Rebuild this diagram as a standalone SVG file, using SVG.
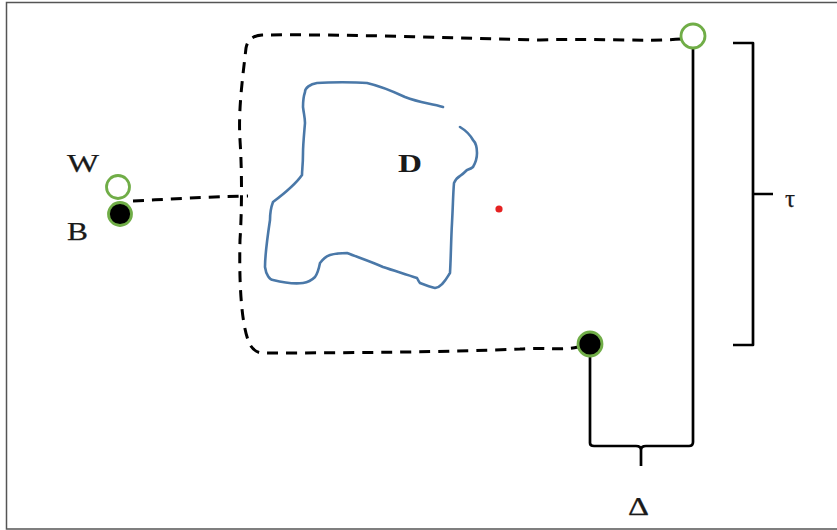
<svg xmlns="http://www.w3.org/2000/svg" width="837" height="530" viewBox="0 0 837 530">
<style>
.dash{fill:none;stroke:#000;stroke-width:3;stroke-dasharray:11 8;stroke-linecap:butt}
.solid{fill:none;stroke:#000;stroke-width:2.7;stroke-linejoin:round}
.lbl{font-family:"Liberation Serif",serif;fill:#1a1a1a;font-size:25px;stroke:#1a1a1a;stroke-width:0.25}
.ring{stroke:#70ad47;stroke-width:2.8}
</style>
<rect x="0" y="0" width="837" height="530" fill="#fff"/>
<rect x="6.5" y="2.5" width="840" height="526.5" fill="none" stroke="#555" stroke-width="1.5"/>
<g id="connectors">
<path class="dash" d="M681,39 C640,42 600,38 540,40 C450,38 350,34 262,35 Q248,36 246,48 C243,75 238,110 240,140 C242,170 242,210 240,240 C239,280 241,320 248,340 Q252,352 262,353 C350,353 450,352 520,349 C545,347 560,351 578,347"/>
<path class="dash" d="M133,201 C170,199 205,197 248,196"/>
<path class="solid" d="M590,357 L590,443 Q590,446 594,446 L636,446 Q641,446 641,450 L641,466 M641,450 Q641,446 646,446 L689,446 Q693,446 693,442 L693,49"/>
<path class="solid" d="M733,43 L753,43 L753,345 L733,345 M753,194 L773,194"/>
</g>
<g id="W">
<circle cx="118" cy="187" r="11.5" fill="#fff" class="ring"/>
<text class="lbl" x="67" y="172" textLength="32" lengthAdjust="spacingAndGlyphs">W</text>
</g>
<g id="B">
<circle cx="120" cy="214" r="11.5" fill="#000" class="ring"/>
<text class="lbl" x="67" y="240" textLength="21" lengthAdjust="spacingAndGlyphs">B</text>
</g>
<g id="topnode">
<circle cx="693" cy="36" r="12" fill="#fff" class="ring"/>
</g>
<g id="bottomnode">
<circle cx="590" cy="344" r="12" fill="#000" class="ring"/>
</g>
<g id="D">
<path d="M443,107 C430,103 420,103 405,97 C390,90 380,86 367,83 C355,82 330,82 317,83 C310,84 305,88 305,92 C303,98 303,103 303,107 C304,115 305,118 305,123 C304,135 303,145 303,153 C303,165 302,170 302,175 C295,185 285,193 273,202 C270,210 270,215 270,220 C267,240 265,255 265,267 C266,275 270,280 273,280 C285,283 295,284 303,283 C310,282 313,279 315,277 C318,273 319,268 320,263 C323,259 327,256 330,255 C337,253 342,253 347,253 C360,258 372,262 383,267 C395,271 405,274 417,278 C418,280 419,282 420,283 C425,285 430,287 435,288 C440,287 441,285 443,283 C446,280 448,276 450,273 C451,255 451,240 452,223 C453,205 453,195 454,183 C456,179 458,177 460,176 C463,174 465,172 467,170 C470,169 472,168 473,167 C476,162 477,158 477,153 C477,148 476,143 473,140 C469,133 465,130 460,127" fill="none" stroke="#4a78a8" stroke-width="2.6" stroke-linecap="round" stroke-linejoin="round"/>
<text x="398" y="172" font-family="Liberation Serif,serif" font-weight="bold" font-size="26" fill="#1a1a1a" textLength="24" lengthAdjust="spacingAndGlyphs">D</text>
</g>
<g id="dot">
<circle cx="499" cy="209" r="3.6" fill="#e52222"/>
</g>
<text class="lbl" x="785" y="207" font-size="27">τ</text>
<text class="lbl" x="628" y="515" font-size="25" textLength="21" lengthAdjust="spacingAndGlyphs">Δ</text>
</svg>
